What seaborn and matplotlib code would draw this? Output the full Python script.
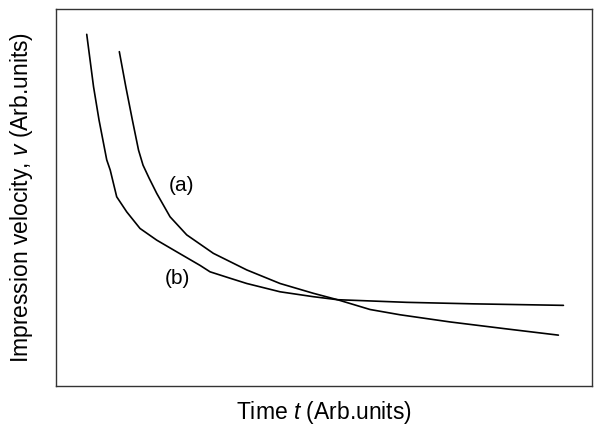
import matplotlib
matplotlib.use("Agg")
import matplotlib.pyplot as plt
import seaborn as sns
import pandas as pd

# Curve (a)
a_t = [1.181, 1.302, 1.424, 1.539, 1.623, 1.735, 1.879, 2.127, 2.438, 2.935, 3.558, 4.179,
       4.800, 5.250, 5.858, 6.418, 7.351, 8.377, 9.371]
a_v = [8.87, 7.94, 7.06, 6.26, 5.86, 5.52, 5.11, 4.49, 4.01, 3.52, 3.08, 2.72,
       2.46, 2.29, 2.03, 1.89, 1.70, 1.52, 1.35]
# Curve (b)
b_t = [0.573, 0.700, 0.802, 0.946, 1.011, 1.132, 1.319, 1.567, 1.879, 2.252, 2.687, 2.873,
       3.246, 3.558, 4.179, 4.800, 5.250, 6.543, 7.785, 9.465]
b_v = [9.33, 7.94, 7.06, 6.00, 5.73, 5.02, 4.62, 4.18, 3.87, 3.56, 3.20, 3.03,
       2.86, 2.72, 2.50, 2.37, 2.29, 2.22, 2.18, 2.14]
series_labels = ["(a)", "(b)"]

df = pd.concat([
    pd.DataFrame({"t": a_t, "v": a_v, "curve": series_labels[0]}),
    pd.DataFrame({"t": b_t, "v": b_v, "curve": series_labels[1]}),
])

sns.set_theme(style="white")
plt.rcParams["font.family"] = ["Liberation Sans", "DejaVu Sans"]
plt.rcParams["mathtext.fontset"] = "custom"
plt.rcParams["mathtext.rm"] = "Liberation Sans"
plt.rcParams["mathtext.it"] = "Liberation Sans:italic"
plt.rcParams["text.color"] = "black"
plt.rcParams["axes.labelcolor"] = "black"

fig = plt.figure(figsize=(6.01, 4.33), dpi=100)
ax = fig.add_axes([0.0932, 0.1085, 0.892, 0.8705])
sns.lineplot(data=df, x="t", y="v", hue="curve", units="curve", estimator=None,
             sort=False, palette=["black", "black"], linewidth=1.2, legend=False, ax=ax)

ax.set_xlim(0, 10)
ax.set_ylim(0, 10)
ax.set_xticks([])
ax.set_yticks([])
for s in ax.spines.values():
    s.set_color("#333333")
    s.set_linewidth(1.0)

ax.text(2.34, 5.31, series_labels[0], fontsize=15, ha="center", va="center")
ax.text(2.26, 2.84, series_labels[1], fontsize=15, ha="center", va="center")

ax.set_xlabel("Time $t$ (Arb.units)", fontsize=16.5, labelpad=9)
ax.set_ylabel("Impression velocity, $v$ (Arb.units)", fontsize=16.5, labelpad=15)

fig.savefig("out.png", dpi=100)
